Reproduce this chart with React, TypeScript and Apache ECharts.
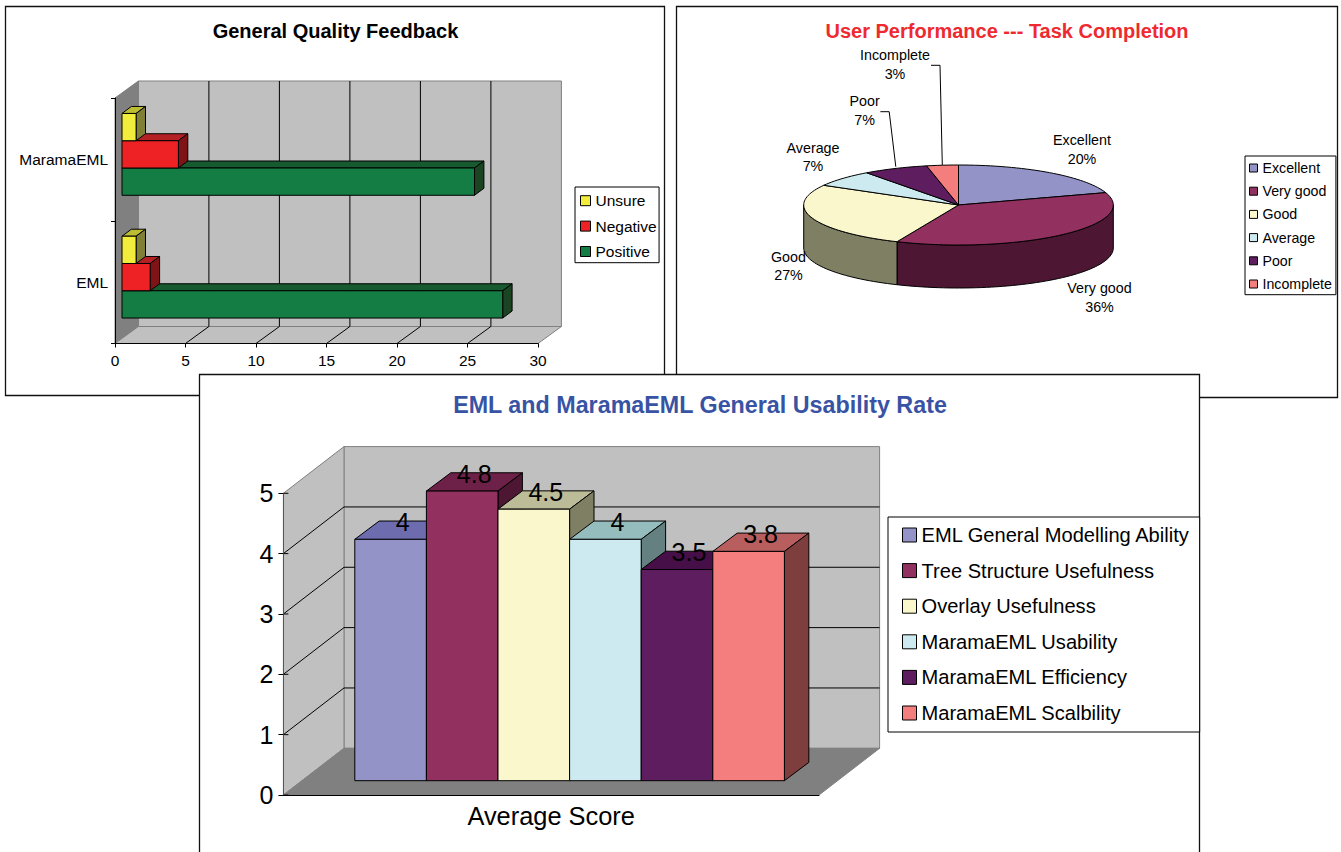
import React, { useEffect, useRef } from "react";
import * as echarts from "echarts";

const FONT = '"Liberation Sans", Arial, sans-serif';

// ---- Chart 1 data
const feedbackCategories = ["EML", "MaramaEML"];
const feedbackTicks = [0, 5, 10, 15, 20, 25, 30];
const positiveValues = [27, 25];
const negativeValues = [2, 4];
const unsureValues = [1, 1];

// ---- Chart 2 data
const taskNames = ["Excellent", "Very good", "Good", "Average", "Poor", "Incomplete"];
const taskValues = [20, 36.5, 26.7, 6.7, 6.8, 3.3];
const taskPercents = ["20%", "36%", "27%", "7%", "7%", "3%"];

// ---- Chart 3 data
const usabilityCategories = ["Average Score"];
const usabilityNames = [
  "EML General Modelling Ability",
  "Tree Structure Usefulness",
  "Overlay Usefulness",
  "MaramaEML Usability",
  "MaramaEML Efficiency",
  "MaramaEML Scalbility",
];
const usabilityValues = [4, 4.8, 4.5, 4, 3.5, 3.8];
const usabilityTicks = [0, 1, 2, 3, 4, 5];

// ---- styles
const feedbackStyle = [
  { name: "Positive", values: positiveValues, front: "#147d43", top: "#175a30", side: "#1b4423", slot: 1 },
  { name: "Negative", values: negativeValues, front: "#ee2224", top: "#b52025", side: "#7f1416", slot: 0 },
  { name: "Unsure", values: unsureValues, front: "#f2ed3c", top: "#bdbd33", side: "#7f7f35", slot: -1 },
];
const taskFront = ["#9393c8", "#92305f", "#fbf7cc", "#cdeaf0", "#5e1d5e", "#f47d7d"];
const taskSide = ["#62628a", "#4d1733", "#7f7f63", "#648080", "#330f33", "#7f3e3e"];
const usabilityFront = ["#9393c8", "#92305f", "#fbf7cc", "#cdeaf0", "#5e1d5e", "#f47d7d"];
const usabilityTop = ["#6c6cae", "#6d2148", "#bcbc99", "#96bdbd", "#470f47", "#b85e5e"];
const usabilitySide = ["#62628a", "#4d1733", "#7f7f63", "#648080", "#330f33", "#7f3e3e"];

// ---- layout
const PIE = { cx: 958.5, cy: 205, rx: 154.8, ry: 40, depth: 43 };
const taskLabels = [
  { x: 1082, y1: 140, y2: 159 },
  { x: 1099.5, y1: 288, y2: 307 },
  { x: 788.5, y1: 257, y2: 275 },
  { x: 813, y1: 148, y2: 166 },
  { x: 864.6, y1: 101, y2: 120 },
  { x: 895, y1: 55, y2: 74 },
];
const taskLeaders: Record<number, number[][]> = {
  4: [[880.4, 111.7], [889.2, 111.7], [895.8, 166.7]],
  5: [[931, 65.3], [940, 65.3], [942.3, 165]],
};

const poly = (points: number[][], fill: string, stroke = "#000", lineWidth = 1) => ({
  type: "polygon",
  shape: { points },
  style: { fill, stroke, lineWidth },
  silent: true,
});
const seg = (x1: number, y1: number, x2: number, y2: number, stroke = "#000") => ({
  type: "line",
  shape: { x1, y1, x2, y2 },
  style: { stroke, lineWidth: 1 },
  silent: true,
});
const label = (text: string, x: number, y: number, size: number) => ({
  type: "text",
  style: {
    text, x, y, fill: "#000", fontSize: size, fontFamily: FONT,
    textAlign: "center", textVerticalAlign: "middle",
  },
  silent: true,
});

function prism(x0: number, y0: number, x1: number, y1: number, dx: number, dy: number, front: string, top: string, side: string) {
  return [
    poly([[x0, y0], [x0 + dx, y0 - dy], [x1 + dx, y0 - dy], [x1, y0]], top),
    poly([[x1, y0], [x1 + dx, y0 - dy], [x1 + dx, y1 - dy], [x1, y1]], side),
    poly([[x0, y0], [x1, y0], [x1, y1], [x0, y1]], front),
  ];
}

function walls(params: any, api: any, o: any) {
  const g = params.coordSys;
  const L = g.x, R = g.x + g.width, T = g.y, B = g.y + g.height;
  const { dx, dy, wallFill, floorFill } = o;
  const edge = "#808080";
  const kids: any[] = [
    poly([[L + dx, T - dy], [R + dx, T - dy], [R + dx, B - dy], [L + dx, B - dy]], "#c0c0c0", edge),
    poly([[L, B], [L + dx, B - dy], [L + dx, T - dy], [L, T]], wallFill, edge),
    poly([[L, B], [R, B], [R + dx, B - dy], [L + dx, B - dy]], floorFill, edge),
  ];
  if (o.vertical) {
    feedbackTicks.slice(1, -1).forEach((t) => {
      const x = api.coord([t, 0])[0];
      kids.push(seg(x, B, x + dx, B - dy));
      kids.push(seg(x + dx, B - dy, x + dx, T - dy));
    });
  } else {
    usabilityTicks.slice(1, -1).forEach((t) => {
      const y = api.coord([0, t])[1];
      kids.push(seg(L, y, L + dx, y - dy));
      kids.push(seg(L + dx, y - dy, R + dx, y - dy));
    });
    usabilityTicks.forEach((t) => {
      const y = api.coord([0, t])[1];
      kids.push(seg(L, y, L + 5, y));
    });
  }
  return { type: "group", children: kids };
}

function renderFeedback(style: any) {
  return (_params: any, api: any) => {
    const v = api.value(0), c = api.value(1);
    const zero = api.coord([0, c]);
    const end = api.coord([v, c]);
    const h = api.size([0, 1])[1] / 4.5;
    const cy = zero[1] + style.slot * h - 5;
    return {
      type: "group",
      children: prism(zero[0] + 7, cy - h / 2, end[0] + 7, cy + h / 2, 9.4, 7, style.front, style.top, style.side),
    };
  };
}

function renderUsability(i: number) {
  return (_params: any, api: any) => {
    const v = api.value(1);
    const top = api.coord([0, v]);
    const base = api.coord([0, 0]);
    const w = api.size([1, 0])[0] / 7.48;
    const x0 = top[0] + (i - 3) * w + 18.4;
    const y0 = top[1] - 14.3;
    const y1 = base[1] - 14.3;
    return {
      type: "group",
      children: [
        ...prism(x0, y0, x0 + w, y1, 24.4, 18.3, usabilityFront[i], usabilityTop[i], usabilitySide[i]),
        label(String(v), x0 + w / 2 + 12, y0 - 17.5, 25),
      ],
    };
  };
}

function renderTask(i: number) {
  return (_params: any, api: any) => {
    const total = taskValues.reduce((a, b) => a + b, 0);
    const before = taskValues.slice(0, i).reduce((a, b) => a + b, 0);
    const a0 = (before / total) * 360;
    const a1 = ((before + api.value(0)) / total) * 360;
    const pt = (deg: number, drop = 0) => {
      const r = (deg * Math.PI) / 180;
      return [PIE.cx + PIE.rx * Math.sin(r), PIE.cy - PIE.ry * Math.cos(r) + drop];
    };
    const arc = (from: number, to: number, drop = 0) => {
      const out: number[][] = [];
      const n = Math.max(2, Math.ceil(Math.abs(to - from) / 2));
      for (let k = 0; k <= n; k++) out.push(pt(from + ((to - from) * k) / n, drop));
      return out;
    };
    const kids: any[] = [];
    const s0 = Math.max(a0, 90), s1 = Math.min(a1, 270);
    if (s1 > s0) {
      kids.push(poly([...arc(s0, s1), ...arc(s1, s0, PIE.depth)], taskSide[i]));
    }
    kids.push(poly([[PIE.cx, PIE.cy], ...arc(a0, a1)], taskFront[i]));
    const l = taskLabels[i];
    kids.push(label(taskNames[i], l.x, l.y1, 14.3));
    kids.push(label(taskPercents[i], l.x, l.y2, 14.3));
    if (taskLeaders[i]) {
      kids.push({
        type: "polyline",
        shape: { points: taskLeaders[i] },
        style: { stroke: "#000", fill: "none", lineWidth: 1 },
        silent: true,
      });
    }
    return { type: "group", children: kids };
  };
}

const panel = (x: number, y: number, width: number, height: number, z: number) => ({
  type: "rect",
  z,
  silent: true,
  shape: { x, y, width, height },
  style: { fill: "#fff", stroke: "#111", lineWidth: 1.3 },
});

const title = (text: string, left: number, top: number, color: string, fontSize: number) => ({
  text,
  left,
  top,
  padding: 0,
  textAlign: "center",
  textStyle: { color, fontSize, fontWeight: "bold", fontFamily: FONT },
});

const legend = (data: string[], left: number, top: number, padding: number[], fs: number, lh: number, gap: number, sw: number) => ({
  orient: "vertical",
  data,
  left,
  top,
  padding,
  icon: "rect",
  itemWidth: sw,
  itemHeight: sw,
  itemGap: gap,
  selectedMode: false,
  borderColor: "#000",
  borderWidth: 1,
  backgroundColor: "#fff",
  itemStyle: { borderColor: "#000", borderWidth: 1 },
  textStyle: { color: "#000", fontSize: fs, lineHeight: lh, fontFamily: FONT },
});

const axisText = (fontSize: number, margin: number) => ({
  color: "#000", fontSize, fontFamily: FONT, margin, hideOverlap: false, showMinLabel: true, showMaxLabel: true,
});

export default function App() {
  const ref = useRef<HTMLDivElement>(null);
  useEffect(() => {
    document.body.style.margin = "0";
    document.body.style.overflow = "hidden";
    const chart = echarts.init(ref.current!, undefined, { renderer: "svg" });
    const option: any = {
      animation: false,
      backgroundColor: "#fff",
      graphic: {
        elements: [
          panel(5.5, 6.5, 659, 389, -10),
          panel(676.5, 6.5, 661, 391, -9),
          panel(199.5, 374.5, 1000, 500, -8),
        ],
      },
      title: [
        title("General Quality Feedback", 335.5, 21, "#000", 20),
        title("User Performance --- Task Completion", 1007, 21, "#ee2a30", 20),
        title("EML and MaramaEML General Usability Rate", 700, 393.5, "#3953a4", 23.3),
      ],
      legend: [
        legend(["Unsure", "Negative", "Positive"], 575, 187, [5.7, 2.4, 3.2, 5], 15.5, 16, 9.4, 10),
        legend(taskNames, 1245, 156, [4.5, 4, 3.2, 4], 14.2, 15, 8.2, 8),
        legend(usabilityNames, 888, 517, [8, 9, 9, 14], 20.1, 20, 15.6, 14),
      ],
      grid: [
        { left: 115, top: 98, width: 423, height: 245.5 },
        { left: 283.4, top: 493.3, width: 535.6, height: 301.7 },
      ],
      xAxis: [
        {
          gridIndex: 0, type: "value", min: 0, max: 30, interval: 5,
          splitLine: { show: false },
          axisLine: { show: true, lineStyle: { color: "#000", width: 1 } },
          axisTick: { show: true, length: 4, lineStyle: { color: "#000" } },
          axisLabel: axisText(15.5, 9),
        },
        {
          gridIndex: 1, type: "category", data: usabilityCategories,
          axisLine: { show: true, lineStyle: { color: "#000", width: 1 } },
          axisTick: { show: false },
          axisLabel: axisText(25.4, 8),
        },
      ],
      yAxis: [
        {
          gridIndex: 0, type: "category", data: feedbackCategories,
          axisLine: { show: true, lineStyle: { color: "#000", width: 1 } },
          axisTick: { show: true, length: 4, lineStyle: { color: "#000" } },
          axisLabel: axisText(15.5, 7),
        },
        {
          gridIndex: 1, type: "value", min: 0, max: 5, interval: 1,
          splitLine: { show: false },
          axisLine: { show: true, lineStyle: { color: "#555", width: 1 } },
          axisTick: { show: true, length: 5, lineStyle: { color: "#000" } },
          axisLabel: axisText(25, 10),
        },
      ],
      series: [
        {
          type: "custom", name: "__walls1", xAxisIndex: 0, yAxisIndex: 0, z: -1, silent: true,
          data: [[0, 0]],
          renderItem: (p: any, api: any) =>
            walls(p, api, { dx: 23.4, dy: 17, wallFill: "#808080", floorFill: "#c0c0c0", vertical: true }),
        },
        {
          type: "custom", name: "__walls3", xAxisIndex: 1, yAxisIndex: 1, z: -1, silent: true,
          data: [[0, 0]],
          renderItem: (p: any, api: any) =>
            walls(p, api, { dx: 60.6, dy: 46.7, wallFill: "#c0c0c0", floorFill: "#808080", vertical: false }),
        },
        ...feedbackStyle.map((s) => ({
          type: "custom",
          name: s.name,
          xAxisIndex: 0,
          yAxisIndex: 0,
          silent: true,
          itemStyle: { color: s.front },
          data: s.values.map((v, c) => [v, c]),
          renderItem: renderFeedback(s),
        })),
        ...taskNames.map((n, i) => ({
          type: "custom",
          name: n,
          coordinateSystem: "none",
          silent: true,
          itemStyle: { color: taskFront[i] },
          data: [[taskValues[i]]],
          renderItem: renderTask(i),
        })),
        ...usabilityNames.map((n, i) => ({
          type: "custom",
          name: n,
          xAxisIndex: 1,
          yAxisIndex: 1,
          silent: true,
          itemStyle: { color: usabilityFront[i] },
          data: [[0, usabilityValues[i]]],
          renderItem: renderUsability(i),
        })),
      ],
    };
    chart.setOption(option);
    return () => chart.dispose();
  }, []);
  return <div ref={ref} style={{ width: 1341, height: 852, position: "absolute", left: 0, top: 0 }} />;
}
